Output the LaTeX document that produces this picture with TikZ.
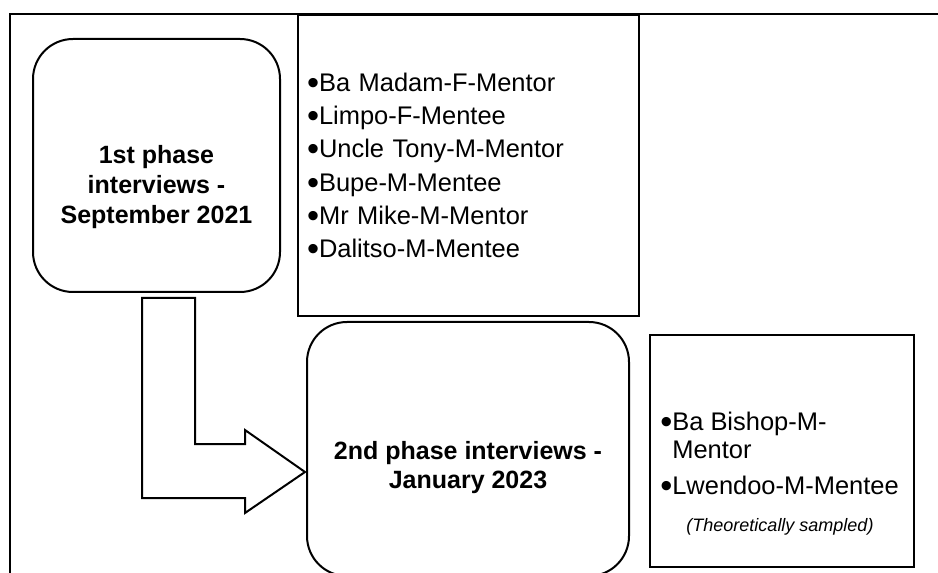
\documentclass[tikz,border=0pt]{standalone}
\usepackage{fontspec}
\setmainfont{Liberation Sans}
\usepackage{graphicx}
\usepackage{tikz}
\usetikzlibrary{positioning}
\newcommand{\itemdot}{\raisebox{-0.12em}[0pt][0pt]{\scalebox{1.35}{\textbullet}}}
\tikzstyle{phasebox}=[rectangle, rounded corners=30pt, draw, line width=1.5pt]
\tikzstyle{listbox}=[rectangle, draw, line width=1.5pt]
\tikzstyle{phasetext}=[align=center, inner sep=0pt, font=\fontsize{18.75}{22.3}\selectfont\bfseries]
\tikzstyle{listtext}=[align=left, inner sep=0pt, font=\fontsize{19.1}{25}\selectfont]
\tikzstyle{notetext}=[inner sep=0pt, font=\fontsize{13.5}{16}\selectfont\itshape]
\tikzstyle{blockarrow}=[draw, line width=1.5pt, line join=miter]

\begin{document}
\begin{tikzpicture}[x=0.75pt, y=-0.75pt] % pixel grid, y down
  \useasboundingbox (0,0) rectangle (938,573);
  \clip (0,0) rectangle (938,573);
  \draw[line width=1pt] (938,14) -- (10,14) -- (10,573);
  \node[phasebox, minimum width=185.25pt, minimum height=189.75pt] (phaseone) at (156.5,165.5) {};
  \node[phasetext] (phaseonetxt) at ([yshift=-16pt]phaseone.center)
    {1st phase\\interviews -\\September 2021};
  \node[listbox, listtext, inner xsep=6.75pt, text width=242.25pt, minimum height=225.75pt]
    (listone) at (468.5,165.5)
    {\itemdot Ba Madam-F-Mentor\\\itemdot Limpo-F-Mentee\\\itemdot Uncle Tony-M-Mentor\\
     \itemdot Bupe-M-Mentee\\\itemdot Mr Mike-M-Mentor\\\itemdot Dalitso-M-Mentee};
  \node[phasebox, minimum width=241.5pt, minimum height=190.5pt] (phasetwo) at (468,449) {};
  \node[phasetext] (phasetwotxt) at ([yshift=-14pt]phasetwo.center)
    {2nd phase interviews -\\January 2023};
  \node[listbox, minimum width=198pt, minimum height=174pt] (listtwo) at (782,451) {};
  \node[listtext, anchor=west] (bishoptxt) at (660,453)
    {\itemdot Ba Bishop-M-\\[-4pt]\hphantom{\itemdot}Mentor\\[2pt]\itemdot Lwendoo-M-Mentee};
  \node[notetext] (sampledtxt) at (780,527) {(Theoretically sampled)};
  \draw[blockarrow] (142,298) -- (195,298) -- (195,444) -- (245,444) -- (245,430)
    -- (305,472) -- (245,513) -- (245,498) -- (142,498) -- cycle;
\end{tikzpicture}
\end{document}
